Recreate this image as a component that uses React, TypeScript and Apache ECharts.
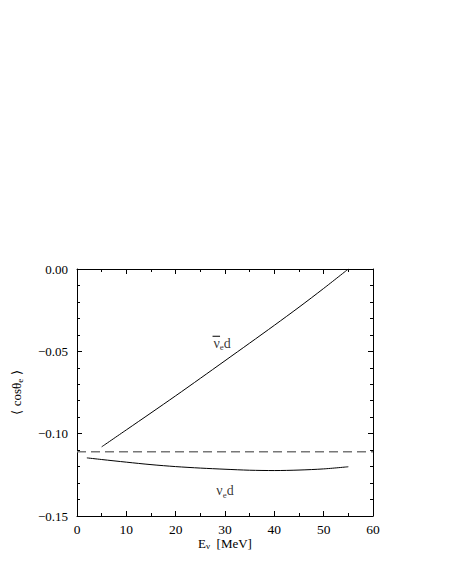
import React, { useEffect, useRef } from "react";
import * as echarts from "echarts";

const xNuBar = [5, 10, 15, 20, 25, 30, 35, 40, 45, 50, 55];
const yNuBar = [-0.108, -0.0977, -0.0874, -0.077, -0.0664, -0.0557, -0.045, -0.0342, -0.0232, -0.0118, 0];
const xNu = [2, 5, 10, 15, 20, 25, 30, 35, 40, 45, 50, 55];
const yNu = [-0.1147, -0.1157, -0.1173, -0.1188, -0.12, -0.1209, -0.1216, -0.1222, -0.1224, -0.1221, -0.1214, -0.1201];
const dashedLevel = -0.111;
const dashedRange = [0, 60];
const labelNuBar = [29.4, -0.0451];
const labelNu = [30.0, -0.1348];

const FONT = "Liberation Serif";

function fmtY(v: number) {
  const s = Math.abs(v).toFixed(2);
  return v < -1e-9 ? "\u2212" + s : s;
}

export default function App() {
  const ref = useRef<HTMLDivElement>(null);
  useEffect(() => {
    document.body.style.margin = "0";
    const chart = echarts.init(ref.current!, null, { renderer: "svg" });
    const tickStyle = { color: "#000", width: 1 };
    const baseX = {
      type: "value" as const,
      min: 0,
      max: 60,
      interval: 10,
      axisLine: { show: true, onZero: false, lineStyle: { color: "#000", width: 1 } },
      axisTick: { show: true, inside: true, length: 5, lineStyle: tickStyle },
      minorTick: { show: true, splitNumber: 2, length: 3, lineStyle: tickStyle },
      splitLine: { show: false },
    };
    const baseY = {
      type: "value" as const,
      min: -0.15,
      max: 0,
      interval: 0.05,
      axisLine: { show: true, onZero: false, lineStyle: { color: "#000", width: 1 } },
      axisTick: { show: true, inside: true, length: 5, lineStyle: tickStyle },
      minorTick: { show: true, splitNumber: 5, length: 3, lineStyle: tickStyle },
      splitLine: { show: false },
    };
    const richSub = {
      a: { fontSize: 13, fontFamily: FONT, color: "#000" },
      s: { fontSize: 9, fontFamily: FONT, color: "#000", verticalAlign: "bottom", padding: [6, 0, 0, 0] },
    };
    chart.setOption({
      animation: false,
      backgroundColor: "#fff",
      textStyle: { fontFamily: FONT },
      grid: { left: 77, top: 269, right: 77, bottom: 66, containLabel: false },
      xAxis: [
        {
          ...baseX,
          position: "bottom",
          axisLabel: { show: true, color: "#000", fontSize: 13.5, fontFamily: FONT, margin: 6 },
          name: "{a|E}{s|\u03bd}{a|  [MeV]}",
          nameLocation: "middle",
          nameGap: 16,
          nameTextStyle: { rich: richSub },
        },
        { ...baseX, position: "top", axisLabel: { show: false } },
      ],
      yAxis: [
        {
          ...baseY,
          position: "left",
          axisLabel: { show: true, color: "#000", fontSize: 13, fontFamily: FONT, margin: 9, formatter: fmtY },
          name: "{a|\u27e8 cos\u03b8}{s|e}{a| \u27e9}",
          nameLocation: "middle",
          nameRotate: 90,
          nameGap: 53,
          nameTextStyle: { rich: richSub },
        },
        { ...baseY, position: "right", axisLabel: { show: false } },
      ],
      series: [
        {
          type: "line",
          data: xNuBar.map((x, i) => [x, yNuBar[i]]),
          smooth: 0.3,
          showSymbol: false,
          symbol: "none",
          lineStyle: { color: "#000", width: 1 },
        },
        {
          type: "line",
          data: xNu.map((x, i) => [x, yNu[i]]),
          smooth: 0.3,
          showSymbol: false,
          symbol: "none",
          lineStyle: { color: "#000", width: 1 },
        },
        {
          type: "line",
          data: dashedRange.map((x) => [x, dashedLevel]),
          showSymbol: false,
          symbol: "none",
          lineStyle: { color: "#777", width: 1.5, type: [9, 5] },
        },
        {
          type: "scatter",
          symbolSize: 0,
          data: [
            { value: labelNuBar, label: { formatter: "{a|\u03bd}{s|e}{a|d}" } },
            { value: labelNu, label: { formatter: "{a|\u03bd}{s|e}{a|d}" } },
          ],
          label: {
            show: true,
            position: "inside",
            rich: {
              a: { fontSize: 14, fontFamily: FONT, color: "#000" },
              s: { fontSize: 9, fontFamily: FONT, color: "#000", verticalAlign: "bottom", padding: [8, 0, 0, 0] },
            },
          },
          silent: true,
        },
      ],
    });
    const p = chart.convertToPixel({ gridIndex: 0 }, labelNuBar) as number[];
    chart.setOption({
      graphic: [
        {
          type: "line",
          silent: true,
          shape: { x1: p[0] - 9.5, y1: p[1] - 7, x2: p[0] - 2, y2: p[1] - 7 },
          style: { stroke: "#000", lineWidth: 1 },
        },
      ],
    });
    return () => chart.dispose();
  }, []);
  return <div ref={ref} style={{ width: 450, height: 582 }} />;
}
